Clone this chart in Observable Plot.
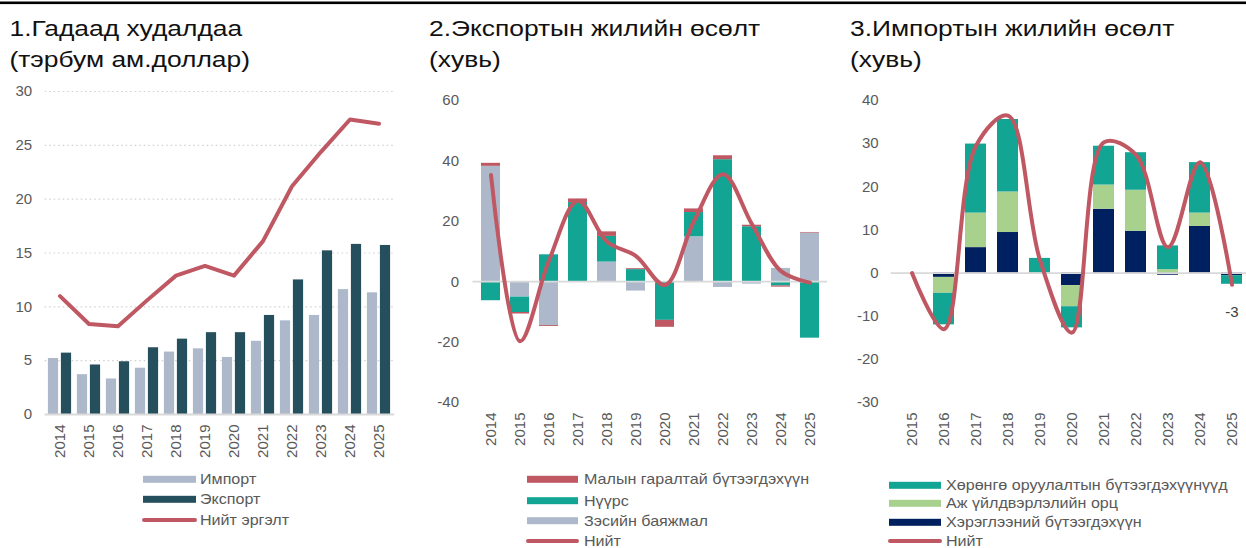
<!DOCTYPE html>
<html>
<head>
<meta charset="utf-8">
<script src="https://cdn.jsdelivr.net/npm/d3@7"></script>
<script src="https://cdn.jsdelivr.net/npm/@observablehq/plot@0.6"></script>
<style>
html, body { margin:0; padding:0; background:#fff; overflow:hidden; }
#root { position:relative; width:1246px; height:548px; overflow:hidden; background:#fff; }
#root svg { position:absolute; left:0; top:0; }
</style>
</head>
<body>
<div id="root"></div>
<script>
// ---------- Panel 1: external trade (bn USD) ----------
const years1 = ["2014","2015","2016","2017","2018","2019","2020","2021","2022","2023","2024","2025"];
const importValues = [5.2, 3.7, 3.3, 4.3, 5.8, 6.1, 5.3, 6.8, 8.7, 9.2, 11.6, 11.3];
const exportValues = [5.7, 4.6, 4.9, 6.2, 7.0, 7.6, 7.6, 9.2, 12.5, 15.2, 15.8, 15.7];
const tradeTotal   = [11.0, 8.4, 8.2, 10.6, 12.9, 13.8, 12.9, 16.1, 21.2, 24.4, 27.4, 27.0];
const tradeLegend  = ["Импорт", "Экспорт", "Нийт эргэлт"];
const ticks1 = [0, 5, 10, 15, 20, 25, 30];

// ---------- Panel 2: export growth contributions (%) ----------
const years2 = ["2014","2015","2016","2017","2018","2019","2020","2021","2022","2023","2024","2025"];
const copperGrowth    = [38.2, -5.1, -14.5, 0.0, 6.5, -3.1, 0.0, 14.9, -1.9, -0.8, 4.4, 16.1];
const coalGrowth      = [-6.3, -5.1, 8.9, 26.2, 8.5, 4.0, -12.8, 8.0, 40.4, 18.2, -1.4, -18.7];
const livestockGrowth = [1.0, -0.5, -0.3, 1.2, 1.5, 0.3, -2.3, 1.2, 1.3, 0.5, -0.4, 0.2];
const exportGrowthTotal = [35.3, -19.7, 7.0, 26.8, 13.2, 8.5, -1.1, 20.1, 35.6, 19.0, 3.5, -0.3];
const exportSeries = ["Зэсийн баяжмал", "Нүүрс", "Малын гаралтай бүтээгдэхүүн"];
const exportLegend = ["Малын гаралтай бүтээгдэхүүн", "Нүүрс", "Зэсийн баяжмал", "Нийт"];
const ticks2 = [-40, -20, 0, 20, 40, 60];

// ---------- Panel 3: import growth contributions (%) ----------
const years3 = ["2015","2016","2017","2018","2019","2020","2021","2022","2023","2024","2025"];
const consumerGrowth   = [0.0, -1.0, 5.9, 9.4, 0.0, -2.9, 14.8, 9.7, -0.5, 10.8, -0.6];
const industrialGrowth = [0.0, -3.7, 8.0, 9.4, 0.0, -4.9, 5.6, 9.5, 0.8, 3.1, 0.0];
const investmentGrowth = [0.0, -7.3, 16.0, 16.8, 3.4, -4.9, 9.0, 8.7, 5.5, 11.7, -2.0];
const importGrowthTotal = [0.0, -13.0, 29.5, 36.5, 3.0, -13.8, 30.3, 27.4, 6.0, 25.7, -2.7];
const importSeries = ["Хэрэглээний бүтээгдэхүүн", "Аж үйлдвэрлэлийн орц", "Хөрөнгө оруулалтын бүтээгдэхүүнүүд"];
const importLegend = ["Хөрөнгө оруулалтын бүтээгдэхүүнүүд", "Аж үйлдвэрлэлийн орц", "Хэрэглээний бүтээгдэхүүн", "Нийт"];
const ticks3 = [-30, -20, -10, 0, 10, 20, 30, 40];

const titles = [
  ["1.Гадаад худалдаа", "(тэрбум ам.доллар)"],
  ["2.Экспортын жилийн өсөлт", "(хувь)"],
  ["3.Импортын жилийн өсөлт", "(хувь)"]
];

// ---------- styles ----------
const COL = {
  imp: "#ADB9CA", exp: "#264F5E", line: "#BF5862",
  teal: "#12A594", green: "#A9D18E", navy: "#002060", zero: "#D9D9D9"
};
const W = 1246, H = 548;
const FONT = "Arial, 'Liberation Sans', sans-serif";
const baseStyle = `background: transparent; font-family: ${FONT}; font-size: 15px; color: #595959; max-width: none; overflow: visible;`;
const fmt = d => String(d);
const root = document.getElementById("root");

// ---------- Panel 1 ----------
const p1 = Plot.plot({
  width: W, height: H, style: baseStyle,
  marginLeft: 44.7, marginRight: W - 394.3, marginTop: 91, marginBottom: H - 414,
  x: {domain: years1, padding: 0, tickRotate: -90, tickSize: 0, tickPadding: 10, label: null},
  y: {domain: [0, 30], ticks: ticks1, tickSize: 0, tickPadding: 13, label: null, tickFormat: fmt},
  marks: [
    Plot.gridY(ticks1.filter(d => d > 0), {stroke: "#D0D0D0", strokeOpacity: 1, strokeDasharray: "1.5,3", strokeWidth: 1.2}),
    Plot.barY(years1, {x: years1, y: importValues, fill: COL.imp, insetLeft: 2.9, insetRight: 15.9}),
    Plot.barY(years1, {x: years1, y: exportValues, fill: COL.exp, insetLeft: 15.9, insetRight: 2.9}),
    Plot.ruleY([0], {stroke: COL.zero, strokeWidth: 2}),
    Plot.line(years1, {x: years1, y: tradeTotal, stroke: COL.line, strokeWidth: 4})
  ]
});
root.appendChild(p1);

// ---------- Panel 2 ----------
const rows2 = years2.flatMap((year, i) => [
  {year, series: exportSeries[0], value: copperGrowth[i]},
  {year, series: exportSeries[1], value: coalGrowth[i]},
  {year, series: exportSeries[2], value: livestockGrowth[i]}
]);
const p2 = Plot.plot({
  width: W, height: H, style: baseStyle,
  marginLeft: 472.5, marginRight: W - 827, marginTop: 100, marginBottom: H - 402,
  x: {domain: years2, paddingInner: 0.35, paddingOuter: 0.175, tickRotate: -90, tickSize: 0, tickPadding: 10, label: null},
  y: {domain: [-40, 60], ticks: ticks2, tickSize: 0, tickPadding: 14, label: null, tickFormat: fmt},
  color: {domain: exportSeries, range: [COL.imp, COL.teal, COL.line]},
  marks: [
    Plot.barY(rows2, {x: "year", y: "value", fill: "series"}),
    Plot.ruleY([0], {stroke: COL.zero, strokeWidth: 1.8}),
    Plot.line(years2, {x: years2, y: exportGrowthTotal, stroke: COL.line, strokeWidth: 4, curve: "catmull-rom"})
  ]
});
root.appendChild(p2);

// ---------- Panel 3 ----------
const W3 = 1262;
const rows3 = years3.flatMap((year, i) => [
  {year, series: importSeries[0], value: consumerGrowth[i]},
  {year, series: importSeries[1], value: industrialGrowth[i]},
  {year, series: importSeries[2], value: investmentGrowth[i]}
]);
const last3 = years3.length - 1;
const p3 = Plot.plot({
  width: W3, height: H, style: baseStyle,
  marginLeft: 890.6, marginRight: W3 - 1252.6, marginTop: 100, marginBottom: H - 402,
  x: {domain: years3, paddingInner: 0.35, paddingOuter: 0.175, tickRotate: -90, tickSize: 0, tickPadding: 10, label: null},
  y: {domain: [-30, 40], ticks: ticks3, tickSize: 0, tickPadding: 12.5, label: null, tickFormat: fmt},
  color: {domain: importSeries, range: [COL.navy, COL.green, COL.teal]},
  marks: [
    Plot.barY(rows3, {x: "year", y: "value", fill: "series"}),
    Plot.ruleY([0], {stroke: COL.zero, strokeWidth: 1.8}),
    Plot.line(years3, {x: years3, y: importGrowthTotal, stroke: COL.line, strokeWidth: 4, curve: "catmull-rom"}),
    Plot.text([years3[last3]], {x: d => d, y: () => importGrowthTotal[last3], text: () => d3.format(".0f")(importGrowthTotal[last3]).replace("−", "-"), dy: 27, fill: "#404040", fontSize: 15})
  ]
});
root.appendChild(p3);

// ---------- Overlay: top rule, titles, legends ----------
const ov = d3.select(root).append("svg").attr("width", W).attr("height", H)
  .style("font-family", FONT);
ov.append("rect").attr("x", 0).attr("y", 1.5).attr("width", W).attr("height", 2.6).attr("fill", "#000");

const titleX = [9.5, 429, 850];
titles.forEach((lines, k) => {
  lines.forEach((t, j) => {
    ov.append("text")
      .attr("transform", `translate(${titleX[k]},${36 + j * 31}) scale(1.2,1)`)
      .attr("font-size", 22).attr("fill", "#111").text(t);
  });
});

function legend(labels, kinds, colors, x0, x1, tx, rowsY) {
  labels.forEach((lab, i) => {
    const cy = rowsY[i];
    if (kinds[i] === "rect") {
      ov.append("rect").attr("x", x0).attr("y", cy - 3.5).attr("width", x1 - x0).attr("height", 7).attr("fill", colors[i]);
    } else {
      ov.append("line").attr("x1", x0 + 1).attr("x2", x1 - 1).attr("y1", cy).attr("y2", cy)
        .attr("stroke", colors[i]).attr("stroke-width", 4).attr("stroke-linecap", "round");
    }
    ov.append("text").attr("transform", `translate(${tx},${cy + 5}) scale(1.15,1)`)
      .attr("font-size", 14).attr("fill", "#595959").text(lab);
  });
}
legend(tradeLegend, ["rect", "rect", "line"], [COL.imp, COL.exp, COL.line], 143, 196, 200, [479.3, 499.3, 520]);
legend(exportLegend, ["rect", "rect", "rect", "line"], [COL.line, COL.teal, COL.imp, COL.line], 527, 578, 584, [479.3, 500.7, 520.7, 541]);
legend(importLegend, ["rect", "rect", "rect", "line"], [COL.teal, COL.green, COL.navy, COL.line], 889, 941, 946, [485.3, 503.3, 522.3, 541]);
</script>
</body>
</html>
